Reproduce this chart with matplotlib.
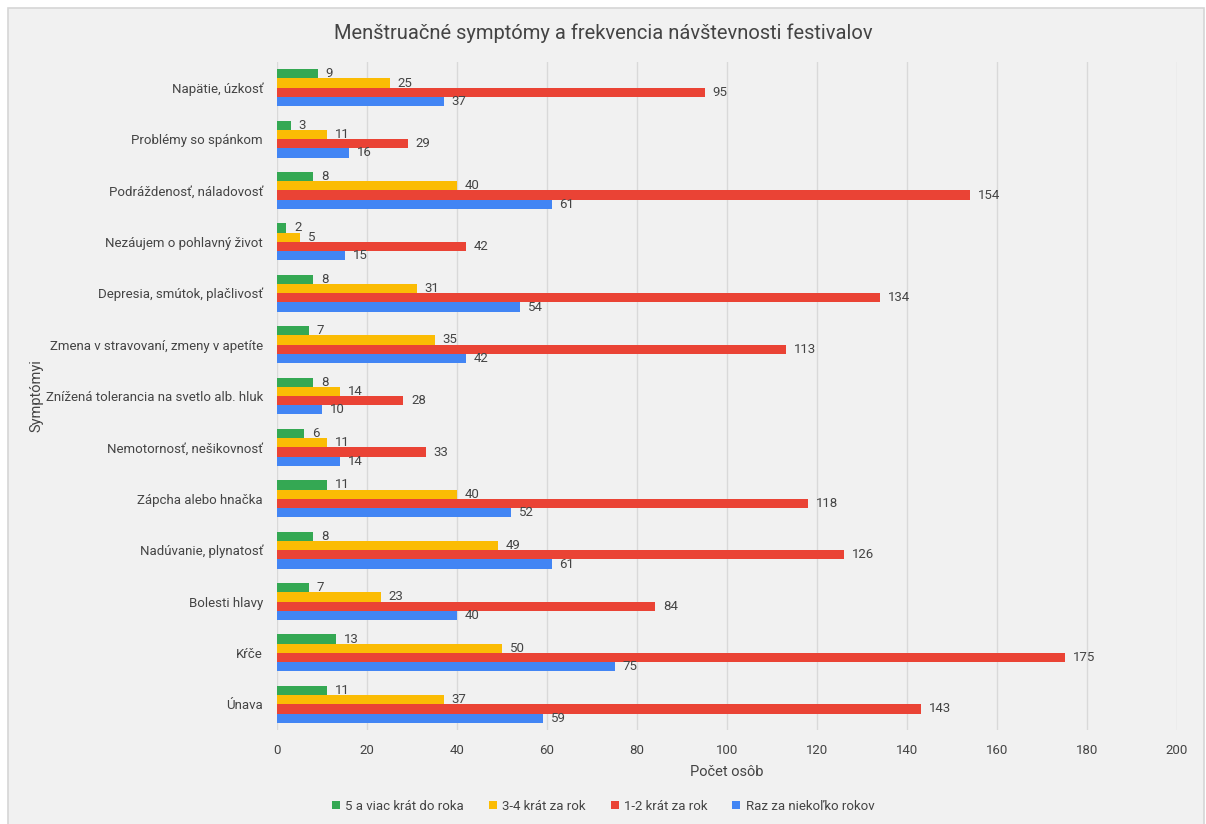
import matplotlib.pyplot as plt
import numpy as np

plt.rcParams['font.family'] = ['Roboto', 'DejaVu Sans']

categories = ["Napätie, úzkosť", "Problémy so spánkom", "Podráždenosť, náladovosť",
              "Nezáujem o pohlavný život", "Depresia, smútok, plačlivosť",
              "Zmena v stravovaní, zmeny v apetíte", "Znížená tolerancia na svetlo alb. hluk",
              "Nemotornosť, nešikovnosť", "Zápcha alebo hnačka", "Nadúvanie, plynatosť",
              "Bolesti hlavy", "Kŕče", "Únava"]

series_names = ["5 a viac krát do roka", "3-4 krát za rok", "1-2 krát za rok", "Raz za niekoľko rokov"]
five_plus = [9, 3, 8, 2, 8, 7, 8, 6, 11, 8, 7, 13, 11]
three_four = [25, 11, 40, 5, 31, 35, 14, 11, 40, 49, 23, 50, 37]
one_two = [95, 29, 154, 42, 134, 113, 28, 33, 118, 126, 84, 175, 143]
rarely = [37, 16, 61, 15, 54, 42, 10, 14, 52, 61, 40, 75, 59]

colors = ["#34a853", "#fbbc04", "#ea4335", "#4285f4"]
bg = "#f1f1f1"
txt = "#444444"

fig = plt.figure(figsize=(12.06, 8.24), dpi=100, facecolor="white")
# grey card with thin border
card = plt.Rectangle((8 / 1206, -0.01), 1196 / 1206, 1 - 8 / 824 + 0.01, transform=fig.transFigure,
                     facecolor=bg, edgecolor="#d6d6d6", linewidth=1.2, zorder=-5)
fig.patches.append(card)

ax = fig.add_axes([277 / 1206, 1 - 730 / 824, 900 / 1206, 668 / 824])
ax.set_facecolor(bg)

y = np.arange(len(categories))
h = 0.18
data = [five_plus, three_four, one_two, rarely]
for i, (vals, name, c) in enumerate(zip(data, series_names, colors)):
    pos = y + (i - 1.5) * h
    ax.barh(pos, vals, height=h, color=c, label=name, zorder=3)
    for p, v in zip(pos, vals):
        ax.text(v + 1.8, p, str(v), va="center", ha="left", fontsize=9.5, color=txt, zorder=4)

ax.set_ylim(len(categories) - 0.5, -0.5)
ax.set_xlim(0, 200)
ax.set_xticks(range(0, 201, 20))
ax.set_yticks(y)
ax.set_yticklabels(categories)
ax.tick_params(axis="both", length=0, colors=txt, labelsize=9.5)
ax.tick_params(axis="y", pad=10)
ax.tick_params(axis="x", pad=10)
ax.grid(axis="x", color="#d9d9d9", linewidth=1, zorder=0)
for s in ax.spines.values():
    s.set_visible(False)

ax.set_xlabel("Počet osôb", fontsize=10.5, color=txt, labelpad=6)
ax.set_ylabel("Symptómyi", fontsize=10.5, color=txt, labelpad=4)
ax.yaxis.set_label_coords(-0.259, 0.5)

fig.suptitle("Menštruačné symptómy a frekvencia návštevnosti festivalov", fontsize=14.5,
             color=txt, y=1 - 33 / 824, va="center")

handles, labels = ax.get_legend_handles_labels()
fig.legend(handles, labels, loc="center", bbox_to_anchor=(0.5, 1 - 806 / 824), ncol=4,
           frameon=False, fontsize=9.5, handlelength=0.6, handleheight=0.6,
           handletextpad=0.4, columnspacing=1.9, labelcolor=txt)

fig.savefig("out.png", dpi=100, facecolor="white")
